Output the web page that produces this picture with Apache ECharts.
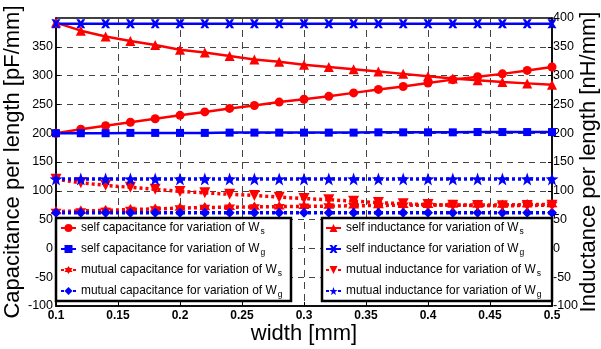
<!DOCTYPE html>
<html>
<head>
<meta charset="utf-8">
<script src="https://cdn.jsdelivr.net/npm/echarts@6/dist/echarts.min.js"></script>
<style>
  html, body { margin: 0; padding: 0; background: #fff; }
  #chart { width: 601px; height: 349px; }
</style>
</head>
<body>
<div id="chart"></div>
<script>
// strip width in mm
const widths = [0.1, 0.12, 0.14, 0.16, 0.18, 0.2, 0.22, 0.24, 0.26, 0.28, 0.3,
                0.32, 0.34, 0.36, 0.38, 0.4, 0.42, 0.44, 0.46, 0.48, 0.5];

// capacitance per length [pF/mm]
const selfCapWs   = [200, 207, 213, 219, 225, 231, 237, 243, 248, 254, 259,
                     264, 270, 276, 281, 287, 293, 298, 303, 309, 315];
const selfCapWg   = [200, 200, 200, 200.5, 200.5, 200.5, 200.5, 201, 201, 201, 201,
                     201, 201, 201.5, 201.5, 201.5, 201.5, 202, 202, 202, 202];
const mutualCapWs = [64, 65, 66, 67.5, 68.5, 70, 71, 71.5, 72, 72.5, 73,
                     73.5, 74, 74.5, 75, 75, 75.5, 75.5, 75.5, 76, 76];
const mutualCapWg = [62, 62, 62, 62, 62, 62, 62, 62, 62, 62, 62,
                     62, 62, 62, 62, 62, 62, 62, 62, 62, 62];

// inductance per length [nH/mm]
const selfIndWs   = [392, 378, 368, 360, 353, 345, 340, 334, 328, 324, 319,
                     315, 311, 307, 303, 299, 295, 292, 289, 286.5, 284];
const selfIndWg   = [390, 390, 390, 390, 390, 390, 390, 390, 390, 390, 390,
                     390, 390, 390, 390, 390, 390, 390, 390, 390, 390];
const mutualIndWs = [120, 114, 109.5, 106, 102.5, 99, 96.5, 94, 92, 89, 86.5,
                     84.5, 82, 79.5, 77.5, 76, 75, 74.5, 74, 74.5, 75];
const mutualIndWg = [120.5, 120.5, 120.5, 120.5, 120.5, 120.5, 120.5, 120.5, 120.5, 120.5, 120.5,
                     120.5, 120.5, 120.5, 120.5, 120.5, 120.5, 120.5, 120.5, 120.5, 120.5];

// axis ranges / ticks
const xTicks = { min: 0.1, max: 0.5, interval: 0.05 };
const yTicks = { min: -100, max: 400, interval: 50 };

const capNames = [
  'self capacitance for variation of Ws',
  'self capacitance for variation of Wg',
  'mutual capacitance for variation of Ws',
  'mutual capacitance for variation of Wg'
];
const indNames = [
  'self inductance for variation of Ws',
  'self inductance for variation of Wg',
  'mutual inductance for variation of Ws',
  'mutual inductance for variation of Wg'
];

const RED = '#ff0000', BLUE = '#0000ff';
const FONT = 'Liberation Sans, Arial, Helvetica, sans-serif';

// n-pointed star outline as an ECharts path symbol
function starPath(n, inner) {
  const pts = [];
  for (let i = 0; i < 2 * n; i++) {
    const r = i % 2 === 0 ? 10 : 10 * inner;
    const a = -Math.PI / 2 + i * Math.PI / n;
    pts.push((10 + r * Math.cos(a)).toFixed(2) + ',' + (10 + r * Math.sin(a)).toFixed(2));
  }
  return 'path://M' + pts.join('L') + 'Z';
}
const PENTAGRAM = starPath(5, 0.40);
const HEXAGRAM = starPath(6, 0.58);
const CROSS = 'path://M0,0L3.2,0L5,2.6L6.8,0L10,0L6.8,5L10,10L6.8,10L5,7.4L3.2,10L0,10L3.2,5Z';
const DOWN_TRI = 'path://M0,0L10,0L5,9Z';

function pairs(arr) { return widths.map((w, i) => [w, arr[i]]); }

function mk(name, arr, yIdx, color, symbol, size, dotted) {
  return {
    name: name,
    type: 'line',
    yAxisIndex: yIdx,
    data: pairs(arr),
    symbol: symbol,
    symbolSize: size,
    showSymbol: true,
    animation: false,
    color: color,
    itemStyle: { color: color, borderWidth: 0 },
    lineStyle: dotted
      ? { color: color, width: 3.5, type: [3, 3], cap: 'butt' }
      : { color: color, width: 2.5, type: 'solid' },
    emphasis: { disabled: true }
  };
}

const legendText = {
  fontFamily: FONT,
  color: '#000',
  rich: {
    a: { fontFamily: FONT, fontSize: 11.9, color: '#000', lineHeight: 16, verticalAlign: 'middle' },
    s: { fontFamily: FONT, fontSize: 8.5, color: '#000', lineHeight: 16, verticalAlign: 'bottom', padding: [7, 0, 0, 1] }
  }
};
function legendFormatter(name) {
  return '{a|' + name.slice(0, -1) + '}{s|' + name.slice(-1) + '}';
}

const chart = echarts.init(document.getElementById('chart'), null, { renderer: 'canvas' });

const yAxisBase = {
  type: 'value',
  min: yTicks.min,
  max: yTicks.max,
  interval: yTicks.interval,
  nameLocation: 'middle',
  nameRotate: 90,
  nameMoveOverlap: false,
  nameTextStyle: { fontFamily: FONT, fontSize: 22, color: '#000' },
  axisLine: { show: true, lineStyle: { color: '#000', width: 1.5 } },
  axisTick: { show: true, inside: true, length: 4, lineStyle: { color: '#000' } },
  axisLabel: { fontFamily: FONT, fontSize: 12.5, color: '#000' }
};

chart.setOption({
  animation: false,
  backgroundColor: '#fff',
  grid: {
    left: 56, right: 49, top: 18, bottom: 43,
    outerBoundsMode: 'none', containLabel: false,
    show: true, borderColor: '#000', borderWidth: 1.5, backgroundColor: 'transparent'
  },
  xAxis: {
    type: 'value',
    min: xTicks.min,
    max: xTicks.max,
    interval: xTicks.interval,
    name: 'width [mm]',
    nameLocation: 'middle',
    nameGap: 17,
    nameMoveOverlap: false,
    nameTextStyle: { fontFamily: FONT, fontSize: 22, color: '#000' },
    axisLine: { show: true, onZero: false, lineStyle: { color: '#000', width: 1.5 } },
    axisTick: { show: true, inside: true, length: 4, lineStyle: { color: '#000' } },
    axisLabel: {
      fontFamily: FONT, fontSize: 12, fontWeight: 'bold', color: '#000', margin: 4,
      formatter: v => String(parseFloat(v.toFixed(2)))
    },
    splitLine: { show: true, lineStyle: { color: '#444', width: 1, type: [7, 5] } }
  },
  yAxis: [
    Object.assign({}, yAxisBase, {
      position: 'left',
      name: 'Capacitance per length [pF/mm]',
      nameGap: 32,
      axisLabel: Object.assign({}, yAxisBase.axisLabel, { margin: 3, showMaxLabel: false }),
      splitLine: { show: true, lineStyle: { color: '#444', width: 1, type: [6, 5] } }
    }),
    Object.assign({}, yAxisBase, {
      position: 'right',
      name: 'Inductance per length [nH/mm]',
      nameGap: 26,
      axisLabel: Object.assign({}, yAxisBase.axisLabel, { margin: 1 }),
      splitLine: { show: false }
    })
  ],
  graphic: [
    { type: 'rect', z: 5, shape: { x: 56, y: 218, width: 235, height: 83 },
      style: { fill: '#fff', stroke: '#000', lineWidth: 2.5 } },
    { type: 'rect', z: 5, shape: { x: 322, y: 218, width: 230, height: 83 },
      style: { fill: '#fff', stroke: '#000', lineWidth: 2.5 } }
  ],
  legend: [
    {
      data: capNames, orient: 'vertical', left: 60, top: 220, z: 10,
      itemWidth: 15, itemHeight: 10, itemGap: 5, padding: 0,
      textStyle: legendText, formatter: legendFormatter, selectedMode: false
    },
    {
      data: indNames, orient: 'vertical', left: 325, top: 220, z: 10,
      itemWidth: 15, itemHeight: 10, itemGap: 5, padding: 0,
      textStyle: legendText, formatter: legendFormatter, selectedMode: false
    }
  ],
  series: [
    mk(capNames[0], selfCapWs, 0, RED, 'circle', 9, false),
    mk(capNames[1], selfCapWg, 0, BLUE, 'rect', 8, false),
    mk(capNames[2], mutualCapWs, 0, RED, HEXAGRAM, 11, true),
    mk(capNames[3], mutualCapWg, 0, BLUE, 'diamond', 10, true),
    mk(indNames[0], selfIndWs, 1, RED, 'triangle', 10, false),
    mk(indNames[1], selfIndWg, 1, BLUE, CROSS, 9, false),
    mk(indNames[2], mutualIndWs, 1, RED, DOWN_TRI, 11, true),
    mk(indNames[3], mutualIndWg, 1, BLUE, PENTAGRAM, 13, true)
  ]
});
</script>
</body>
</html>
